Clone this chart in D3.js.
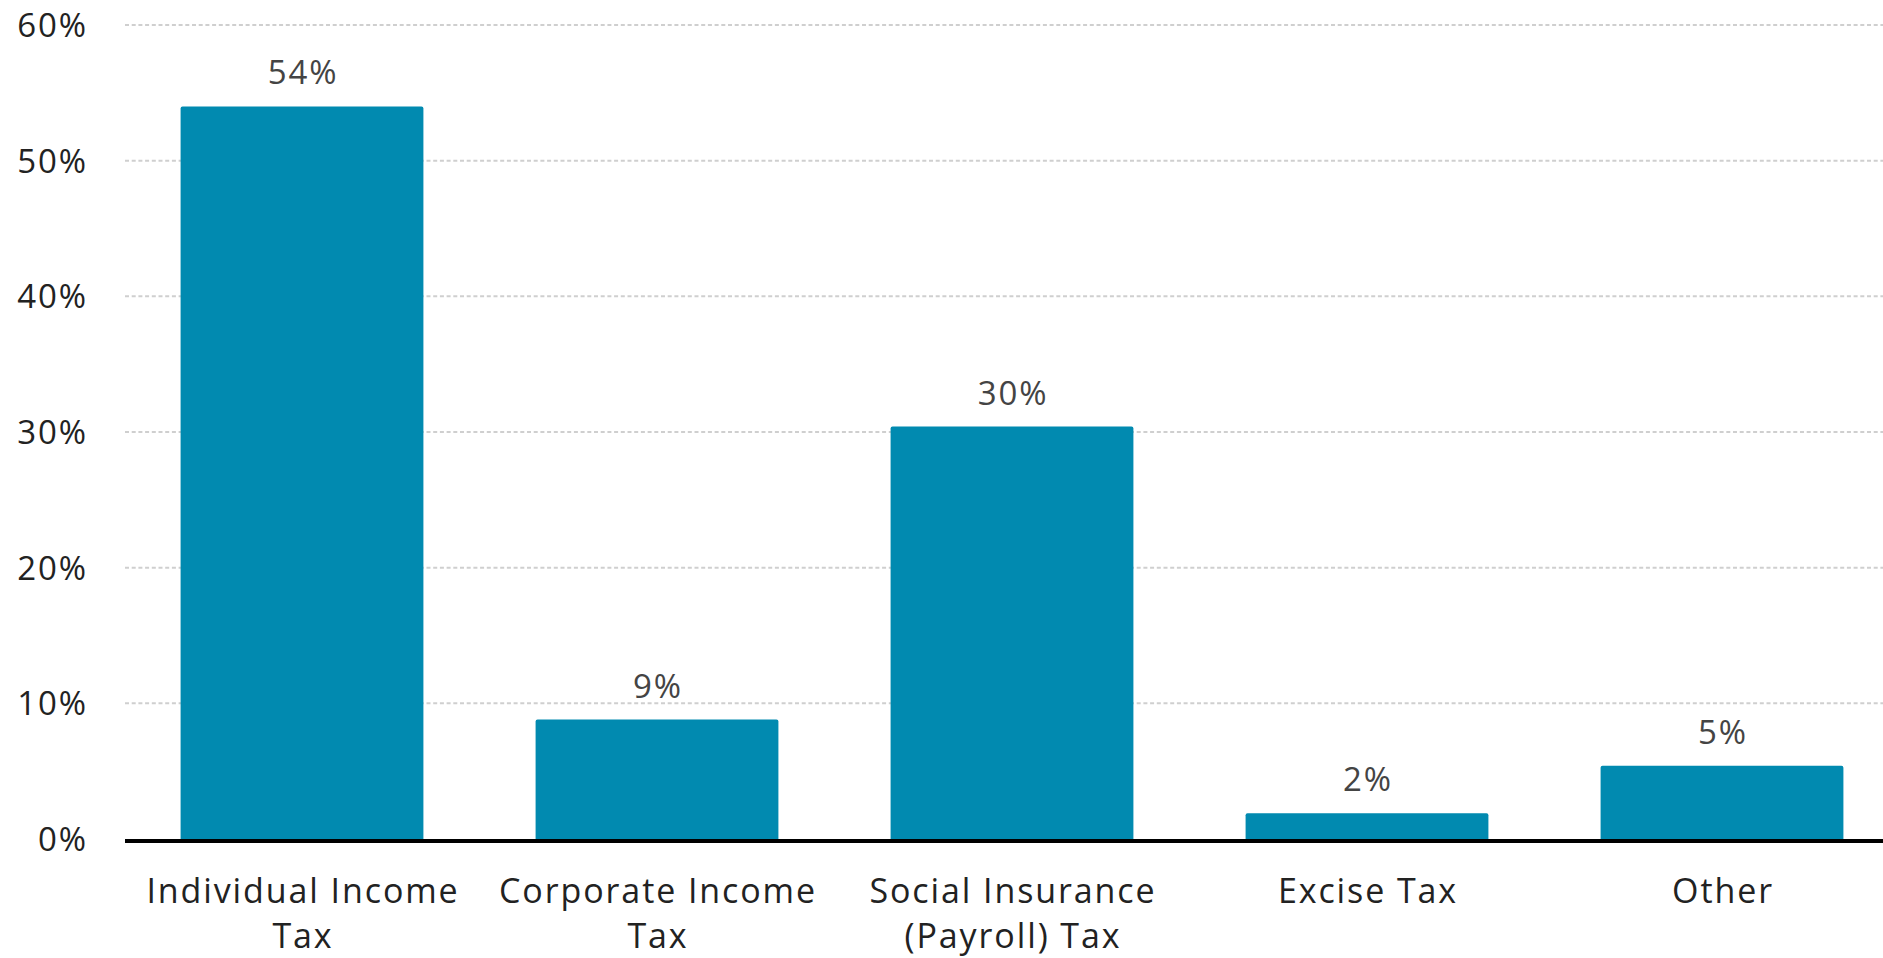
<!DOCTYPE html>
<html>
<head>
<meta charset="utf-8">
<script src="https://cdn.jsdelivr.net/npm/d3@7"></script>
<style>
  html, body { margin: 0; padding: 0; background: #ffffff; }
  svg { display: block; }
  text { font-family: "Open Sans", "Noto Sans", sans-serif; letter-spacing: 1.9px; }
</style>
</head>
<body>
<svg id="chart" width="1883" height="958"></svg>
<script>
// Share of federal revenue by source (percent)
const categories = [
  ["Individual Income", "Tax"],
  ["Corporate Income", "Tax"],
  ["Social Insurance", "(Payroll) Tax"],
  ["Excise Tax"],
  ["Other"]
];
const shares = [54.0, 8.8, 30.4, 1.9, 5.4];
const yTicks = [0, 10, 20, 30, 40, 50, 60];

const W = 1883, H = 958;
const FONT = "'Open Sans', 'Noto Sans', sans-serif";
const svg = d3.select("#chart");

const x = d3.scaleBand()
  .domain(d3.range(categories.length))
  .range([124.5, 1899.5])
  .paddingInner(0.316)
  .paddingOuter(0.158);

const y = d3.scaleLinear()
  .domain([0, 60])
  .range([839, 25]);

const pct = v => d3.format(".0%")(v / 100);

// Horizontal dotted gridlines
svg.append("g")
  .selectAll("line")
  .data(yTicks.filter(t => t > 0))
  .join("line")
  .attr("x1", 125)
  .attr("x2", W)
  .attr("y1", d => y(d))
  .attr("y2", d => y(d))
  .attr("stroke", "#cfcfcf")
  .attr("stroke-width", 2)
  .attr("stroke-dasharray", "4 2.7");

// Y axis labels
const yAxis = d3.axisLeft(y)
  .tickValues(yTicks)
  .tickFormat(d => d + "%")
  .tickSize(0)
  .tickPadding(0);
const gy = svg.append("g")
  .attr("transform", "translate(88,0)")
  .call(yAxis);
gy.select(".domain").remove();
gy.selectAll("text")
  .attr("font-size", 33)
  .attr("fill", "#222")
  .attr("dy", "0.35em")
  .style("font-family", FONT);

// Bars with softly rounded tops
svg.append("g")
  .selectAll("rect")
  .data(shares)
  .join("rect")
  .attr("x", (d, i) => x(i))
  .attr("width", x.bandwidth())
  .attr("y", d => y(d))
  .attr("height", d => y(0) - y(d) + 2)
  .attr("rx", 2)
  .attr("fill", "#018ab0");

// Value labels above bars
svg.append("g")
  .selectAll("text")
  .data(shares)
  .join("text")
  .attr("x", (d, i) => x(i) + x.bandwidth() / 2 + 1)
  .attr("y", d => y(d) - 22)
  .attr("text-anchor", "middle")
  .attr("font-size", 33)
  .attr("fill", "#444")
  .text(d => pct(d));

// Baseline
svg.append("line")
  .attr("x1", 125)
  .attr("x2", W)
  .attr("y1", y(0) + 2)
  .attr("y2", y(0) + 2)
  .attr("stroke", "#000")
  .attr("stroke-width", 4);

// Category labels
const xl = svg.append("g")
  .selectAll("text")
  .data(categories)
  .join("text")
  .attr("x", (d, i) => x(i) + x.bandwidth() / 2 + 1)
  .attr("y", 903)
  .attr("text-anchor", "middle")
  .attr("font-size", 34)
  .attr("fill", "#222");
xl.selectAll("tspan")
  .data(d => d)
  .join("tspan")
  .attr("x", function () { return this.parentNode.getAttribute("x"); })
  .attr("dy", (d, i) => i === 0 ? 0 : 45)
  .text(d => d);
</script>
</body>
</html>
